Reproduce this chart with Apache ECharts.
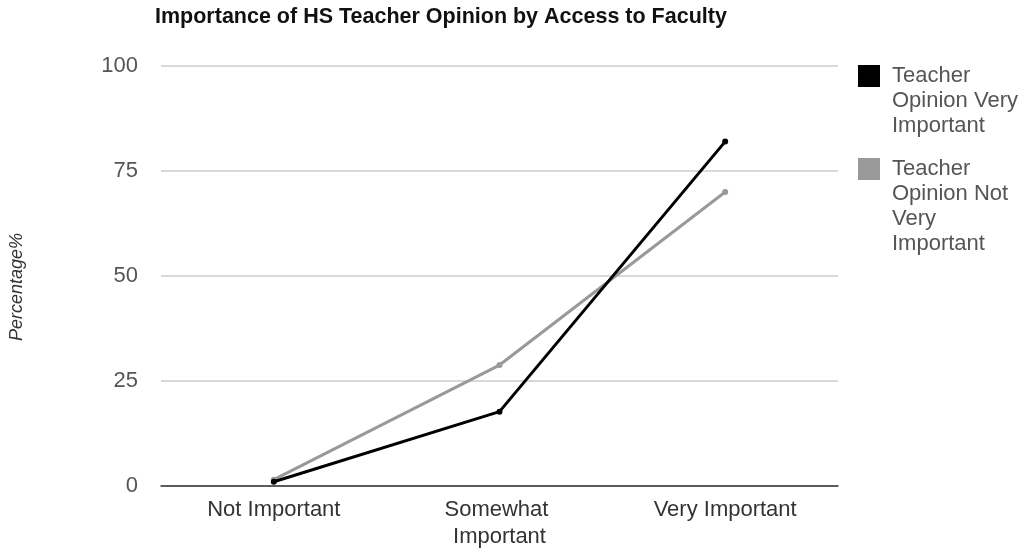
<!DOCTYPE html>
<html>
<head>
<meta charset="utf-8">
<title>Importance of HS Teacher Opinion by Access to Faculty</title>
<script src="https://cdn.jsdelivr.net/npm/echarts@6/dist/echarts.min.js"></script>
<style>
  html, body { margin: 0; padding: 0; background: #fff; }
  #chart { width: 1024px; height: 550px; }
</style>
</head>
<body>
<div id="chart"></div>
<script>
// Response categories along the x axis
const categories = ['Not Important', 'Somewhat Important', 'Very Important'];

// Percentage of respondents in each group
const opinionVeryImportant = [1, 17.7, 82];
const opinionNotVeryImportant = [1.5, 28.8, 70];

const seriesNames = ['Teacher Opinion Very Important', 'Teacher Opinion Not Very Important'];

const yTicks = { min: 0, max: 100, interval: 25 };

const FONT = "'Liberation Sans', Arial, sans-serif";
const LEGEND_SIZE = 22;
const LEGEND_LINE = 25;
const LEGEND_ICON = 22;
const LEGEND_WRAP = 130;

// Greedy word wrap measured with the legend font
const measureCtx = document.createElement('canvas').getContext('2d');
function wrapWords(text, maxWidth) {
  measureCtx.font = LEGEND_SIZE + 'px ' + FONT;
  const words = text.split(' ');
  const lines = [];
  let cur = '';
  words.forEach(w => {
    const next = cur ? cur + ' ' + w : w;
    if (cur && measureCtx.measureText(next).width > maxWidth) {
      lines.push(cur);
      cur = w;
    } else {
      cur = next;
    }
  });
  if (cur) lines.push(cur);
  return lines;
}

// The legend centres its label on the icon, so blank lines are added above
// the wrapped text until its first line sits level with the icon.
function legendBlock(name, iconTop) {
  const lines = wrapWords(name, LEGEND_WRAP);
  const blanks = lines.length - 1;
  const total = lines.length + blanks;
  const top = iconTop + LEGEND_ICON / 2 - (total * LEGEND_LINE) / 2;
  return {
    show: true,
    orient: 'vertical',
    left: 858,
    top: top,
    padding: 0,
    icon: 'rect',
    itemWidth: LEGEND_ICON,
    itemHeight: LEGEND_ICON,
    data: [name],
    formatter: () => new Array(blanks).fill('').concat(lines).join('\n'),
    textStyle: {
      fontFamily: FONT,
      fontSize: LEGEND_SIZE,
      color: '#555',
      lineHeight: LEGEND_LINE,
      padding: [0, 0, 0, 7]
    }
  };
}

const chart = echarts.init(document.getElementById('chart'), null, { renderer: 'canvas' });

chart.setOption({
  animation: false,
  backgroundColor: '#fff',
  title: {
    text: 'Importance of HS Teacher Opinion by Access to Faculty',
    left: 155,
    top: 6,
    padding: 0,
    textStyle: {
      fontFamily: FONT,
      fontWeight: 'bold',
      fontSize: 21.5,
      color: '#111'
    }
  },
  legend: [
    legendBlock(seriesNames[0], 65),
    legendBlock(seriesNames[1], 158)
  ],
  grid: {
    left: 158,
    right: 186,
    top: 66,
    bottom: 64,
    containLabel: false
  },
  xAxis: {
    type: 'category',
    data: categories,
    boundaryGap: true,
    axisLine: { show: true, lineStyle: { color: '#333', width: 1.5 } },
    axisTick: { show: false },
    splitLine: { show: false },
    axisLabel: {
      fontFamily: FONT,
      fontSize: 22,
      color: '#333',
      margin: 10,
      lineHeight: 27,
      width: 150,
      overflow: 'break',
      interval: 0
    }
  },
  yAxis: {
    type: 'value',
    min: yTicks.min,
    max: yTicks.max,
    interval: yTicks.interval,
    name: 'Percentage%',
    nameLocation: 'middle',
    nameRotate: 90,
    nameGap: 135,
    nameTextStyle: {
      fontFamily: FONT,
      fontSize: 18,
      fontStyle: 'italic',
      color: '#333',
      padding: [0, 22, 0, 0]
    },
    axisLine: { show: false },
    axisTick: { show: false },
    splitLine: { show: true, lineStyle: { color: '#ccc', width: 1.5 } },
    axisLabel: {
      fontFamily: FONT,
      fontSize: 22,
      color: '#555',
      margin: 23
    }
  },
  series: [
    {
      name: seriesNames[0],
      type: 'line',
      data: opinionVeryImportant,
      color: '#000',
      symbol: 'circle',
      symbolSize: 6,
      lineStyle: { color: '#000', width: 3 },
      itemStyle: { color: '#000' },
      z: 3
    },
    {
      name: seriesNames[1],
      type: 'line',
      data: opinionNotVeryImportant,
      color: '#999',
      symbol: 'circle',
      symbolSize: 6,
      lineStyle: { color: '#999', width: 3 },
      itemStyle: { color: '#999' },
      z: 2
    }
  ]
});
</script>
</body>
</html>
